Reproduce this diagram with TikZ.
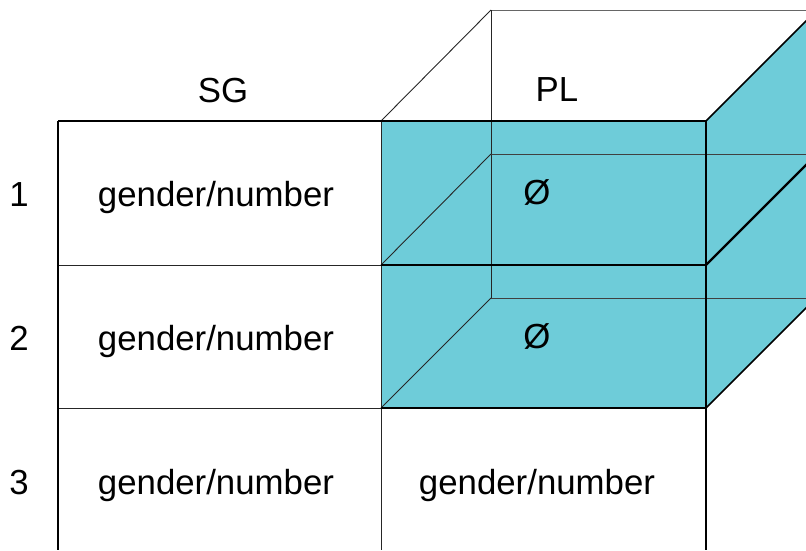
\documentclass[tikz,border=0pt]{standalone}
\usepackage{fontspec}
\setmainfont{Liberation Sans}
\definecolor{cubecyan}{RGB}{110,204,217}
\begin{document}
\begin{tikzpicture}[x=1pt,y=-1pt,
  lbl/.style={anchor=base,inner sep=0pt,font=\fontsize{34.8}{40}\selectfont},
  thinl/.style={line width=0.9pt,black!85},
  midl/.style={line width=1.6pt,black},
  thickl/.style={line width=2.4pt,black}]
\useasboundingbox (0,0) rectangle (806,550);
\clip (0,0) rectangle (806,550);
% cyan faces
\fill[cubecyan] (381,121) rectangle (706,408);
\fill[cubecyan] (706,121) -- (816,11) -- (816,298) -- (706,408) -- cycle;
% depth lines
\draw[thinl] (381,121) -- (491,10);
\draw[thinl,black!60] (491,10) -- (816,10);
\draw[thinl] (491,10) -- (491,298);
\draw[thinl,black!75] (491,154) -- (816,154);
\draw[thinl,black!75] (491,298) -- (816,298);
\draw[thinl] (381,265) -- (491,154);
\draw[thinl] (381,408) -- (491,298);
\draw[midl] (706,121) -- (816,11);
\draw[thickl] (706,265) -- (816,155);
\draw[midl] (706,408) -- (816,298);
% table
\draw[thinl] (58,265) -- (381,265);
\draw[thinl] (58,408) -- (381,408);
\draw[thinl] (381,121) -- (381,550);
\draw[thickl] (381,265) -- (706,265);
\draw[thickl] (381,408) -- (706,408);
\draw[thickl] (706,121) -- (706,550);
\draw[thickl] (58,121) -- (706,121);
\draw[thickl] (58,121) -- (58,550);
% labels
\node[lbl] (sg) at (223,102) {SG};
\node[lbl] (pl) at (557,101) {PL};
\node[lbl] (n1) at (19,206) {1};
\node[lbl] (n2) at (19,350) {2};
\node[lbl] (n3) at (19,494) {3};
\node[lbl] (c11) at (216,206) {gender/number};
\node[lbl] (c21) at (216,350) {gender/number};
\node[lbl] (c31) at (216,494) {gender/number};
\node[lbl] (c32) at (537,494) {gender/number};
\node[lbl] (c12) at (537,204) {Ø};
\node[lbl] (c22) at (537,348) {Ø};
\end{tikzpicture}
\end{document}
